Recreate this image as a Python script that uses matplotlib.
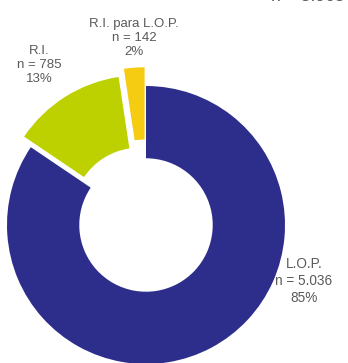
import matplotlib
matplotlib.use("Agg")
import matplotlib.pyplot as plt

categories = ["L.O.P.", "R.I.", "R.I. para L.O.P."]
counts = [5036, 785, 142]
count_labels = ["5.036", "785", "142"]
percent_labels = ["85%", "13%", "2%"]
total_label = "n = 5.963"

colors = ["#2D2E8C", "#BDD000", "#F6CC12"]
explode = [0.0, 0.09, 0.135]

W, H = 348, 363
fig = plt.figure(figsize=(W / 100, H / 100), dpi=100)
ax = fig.add_axes([0, 0, 1, 1])

ax.pie(counts, colors=colors, startangle=90, counterclock=False,
       explode=explode, radius=1.0,
       wedgeprops=dict(width=0.52, edgecolor="none"))

scale = 139.0
cx, cy = 146.0, 225.0
ax.set_xlim(-cx / scale, (W - cx) / scale)
ax.set_ylim(-(H - cy) / scale, cy / scale)
ax.set_aspect("equal")
ax.set_axis_off()

def px(x, y):
    return ((x - cx) / scale, (cy - y) / scale)

txt = dict(color="#5a5a5a", family="Liberation Sans", ha="center", va="center")

ax.text(*px(304, 281), f"{categories[0]}\nn = {count_labels[0]}\n{percent_labels[0]}",
        fontsize=9.8, linespacing=1.3, **txt)
ax.text(*px(39, 65), f"{categories[1]}\nn = {count_labels[1]}\n{percent_labels[1]}",
        fontsize=9.5, linespacing=1.25, **txt)
ax.text(*px(134, 38), f"{categories[2]}\nn = {count_labels[2]}\n{percent_labels[2]}",
        fontsize=9.5, linespacing=1.25, **txt)
ax.text(*px(308, -4), total_label, fontsize=12.5, color="#5a5a5a",
        family="Liberation Sans", ha="center", va="center")

fig.savefig("out.png", dpi=100)
